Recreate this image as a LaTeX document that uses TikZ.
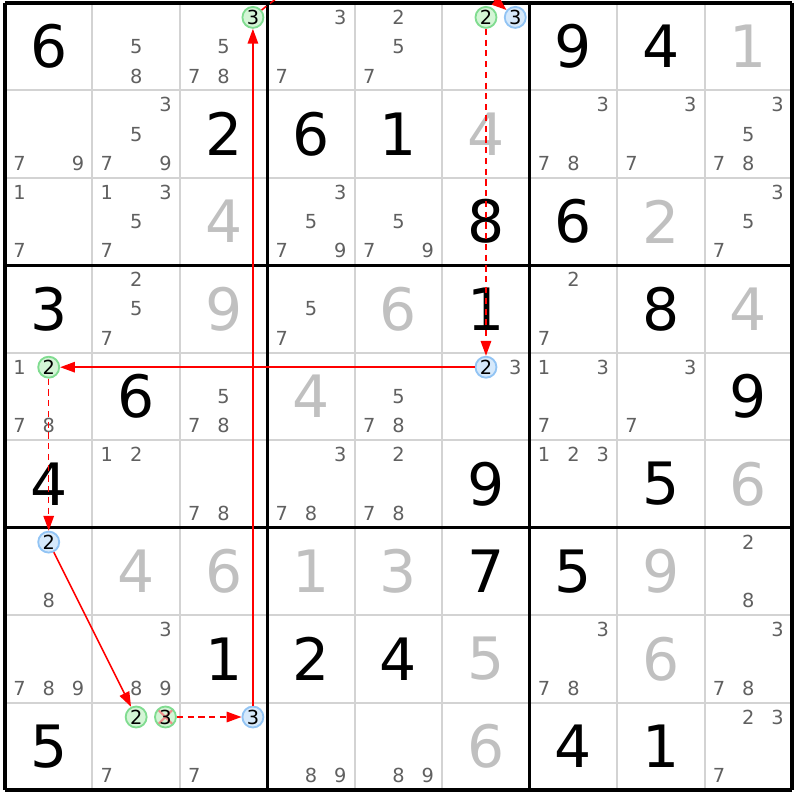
\documentclass[tikz,border=0pt]{standalone}
\usepackage{fontspec}
\setmainfont{DejaVu Sans}
\usetikzlibrary{arrows.meta}

\definecolor{candgray}{RGB}{96,96,96}
\definecolor{solvedgray}{RGB}{192,192,192}
\definecolor{gridgray}{RGB}{211,211,211}
\definecolor{greenfill}{RGB}{212,245,214}
\definecolor{greenedge}{RGB}{128,220,144}
\definecolor{bluefill}{RGB}{214,233,251}
\definecolor{blueedge}{RGB}{146,196,244}
\definecolor{crosspink}{RGB}{240,140,140}

\begin{document}
\begin{tikzpicture}[
    given/.style={font=\fontsize{19}{19}\selectfont},
    solved/.style={given, text=solvedgray},
    cand/.style={font=\fontsize{6.3}{6.3}\selectfont, text=candgray, inner sep=0pt},
    greencand/.style={cand, text=black, circle, draw=greenedge, fill=greenfill, line width=0.6pt, minimum size=2.4mm},
    bluecand/.style={greencand, draw=blueedge, fill=bluefill},
    crossed/.style={path picture={\draw[crosspink, line width=0.7pt]
        (path picture bounding box.north west) -- (path picture bounding box.south east)
        (path picture bounding box.north east) -- (path picture bounding box.south west);}},
    stronglink/.style={draw=red, line width=0.5pt, -{Triangle[length=1.7mm, width=1.2mm, fill=red]}},
    weaklink/.style={stronglink, dash pattern=on 2pt off 1.5pt}
]
    \useasboundingbox (-0.057,-0.114) rectangle (9.057,9.034);
    \clip (-0.057,-0.114) rectangle (9.057,9.034);

    \draw[gridgray, line width=0.65pt] (0,0) grid (9,9);
    \draw[line width=1.1pt, step=3] (0,0) grid (9,9);

    % givens
    \foreach \r/\c/\d in {1/1/6, 1/7/9, 1/8/4, 2/3/2, 2/4/6, 2/5/1, 3/6/8, 3/7/6,
        4/1/3, 4/6/1, 4/8/8, 5/2/6, 5/9/9, 6/1/4, 6/6/9, 6/8/5, 7/6/7, 7/7/5,
        8/3/1, 8/4/2, 8/5/4, 9/1/5, 9/7/4, 9/8/1}
        \node[given] (v-\r-\c) at ({\c-0.5},{9.5-\r}) {\d};

    % solved cells
    \foreach \r/\c/\d in {1/9/1, 2/6/4, 3/3/4, 3/8/2, 4/3/9, 4/5/6, 4/9/4, 5/4/4,
        6/9/6, 7/2/4, 7/3/6, 7/4/1, 7/5/3, 7/8/9, 8/6/5, 8/8/6, 9/6/6}
        \node[solved] (v-\r-\c) at ({\c-0.5},{9.5-\r}) {\d};

    % pencil marks
    \foreach \r/\c/\ds in {1/2/{5,8}, 1/3/{5,7,8}, 1/4/{3,7}, 1/5/{2,5,7},
        2/1/{7,9}, 2/2/{3,5,7,9}, 2/7/{3,7,8}, 2/8/{3,7}, 2/9/{3,5,7,8},
        3/1/{1,7}, 3/2/{1,3,5,7}, 3/4/{3,5,7,9}, 3/5/{5,7,9}, 3/9/{3,5,7},
        4/2/{2,5,7}, 4/4/{5,7}, 4/7/{2,7},
        5/1/{1,7,8}, 5/3/{5,7,8}, 5/5/{5,7,8}, 5/6/{3}, 5/7/{1,3,7}, 5/8/{3,7},
        6/2/{1,2}, 6/3/{7,8}, 6/4/{3,7,8}, 6/5/{2,7,8}, 6/7/{1,2,3},
        7/1/{8}, 7/9/{2,8},
        8/1/{7,8,9}, 8/2/{3,8,9}, 8/7/{3,7,8}, 8/9/{3,7,8},
        9/2/{7}, 9/3/{7}, 9/4/{8,9}, 9/5/{8,9}, 9/9/{2,3,7}}{
        \foreach \d in \ds {
            \pgfmathtruncatemacro\cx{mod(\d-1,3)}
            \pgfmathtruncatemacro\cy{div(\d-1,3)}
            \node[cand] (p-\r-\c-\d) at ({\c-0.835+0.335*\cx},{9.835-\r-0.335*\cy}) {\d};
        }
    }

    % chain
    \node[greencand] (r1c3n3) at (2.835,8.835) {3};
    \node[greencand] (r1c6n2) at (5.5,8.835) {2};
    \node[bluecand] (r1c6n3) at (5.835,8.835) {3};
    \node[bluecand] (r5c6n2) at (5.5,4.835) {2};
    \node[greencand] (r5c1n2) at (0.5,4.835) {2};
    \node[bluecand] (r7c1n2) at (0.5,2.835) {2};
    \node[greencand] (r9c2n2) at (1.5,0.835) {2};
    \node[greencand, crossed] (r9c2n3) at (1.835,0.835) {3};
    \node[bluecand] (r9c3n3) at (2.835,0.835) {3};

    \draw[weaklink] (r1c6n2) -- (r5c6n2);
    \draw[stronglink] (r5c6n2) -- (r5c1n2);
    \draw[weaklink] (r5c1n2) -- (r7c1n2);
    \draw[stronglink] (r7c1n2) -- (r9c2n2);
    \draw[weaklink] (r9c2n3) -- (r9c3n3);
    \draw[stronglink] (r9c3n3) -- (r1c3n3);
    \draw[weaklink] (r1c3n3) to[bend left=40] (r1c6n3);
\end{tikzpicture}
\end{document}
